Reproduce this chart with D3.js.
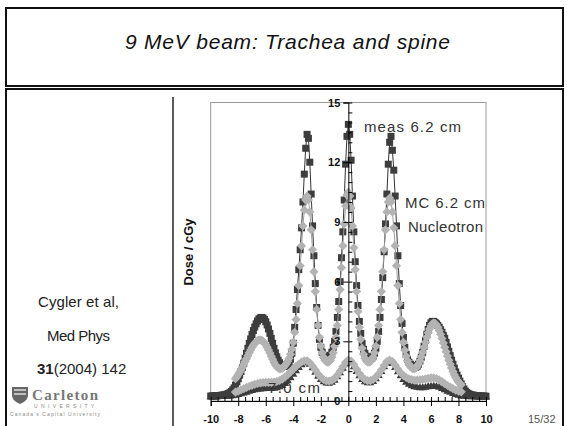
<!DOCTYPE html>
<html><head><meta charset="utf-8">
<script src="https://cdn.jsdelivr.net/npm/d3@7"></script>
<style>body{margin:0;background:#fff}svg{display:block}</style>
</head><body>
<svg id="c" width="567" height="426"></svg>
<script>
// ---- data (dose in cGy vs lateral position in cm) ----
const meas62Start = -10.0, meas62Step = 0.1;
const meas62 = [
0.25,0.25,0.25,0.26,0.26,0.27,0.27,0.28,0.29,0.30,
0.31,0.33,0.35,0.38,0.42,0.48,0.56,0.66,0.80,0.96,
1.12,1.30,1.48,1.68,1.90,2.15,2.40,2.65,2.90,3.12,
3.34,3.54,3.72,3.88,4.02,4.12,4.18,4.20,4.17,4.10,
3.98,3.82,3.62,3.40,3.15,2.90,2.65,2.42,2.22,2.05,
1.92,1.82,1.76,1.74,1.75,1.80,1.87,1.95,2.10,2.40,
2.90,3.70,4.60,5.60,6.60,7.60,8.70,10.0,11.4,12.7,
13.4,13.2,12.0,10.4,8.8,7.3,5.9,4.7,3.8,3.1,
2.70,2.45,2.30,2.20,2.15,2.15,2.20,2.30,2.45,2.70,
3.0,3.5,4.2,5.0,6.0,7.2,8.5,10.1,11.9,13.3,
13.9,13.4,12.1,10.3,8.5,7.0,5.8,4.8,4.0,3.4,
2.9,2.6,2.4,2.25,2.15,2.1,2.1,2.15,2.25,2.4,
2.65,3.0,3.5,4.2,5.1,6.2,7.5,8.9,10.4,11.9,
13.0,13.3,12.6,11.6,10.3,8.8,7.3,5.9,4.8,3.9,
3.2,2.7,2.35,2.1,1.95,1.85,1.78,1.72,1.7,1.7,
1.75,1.85,2.0,2.2,2.45,2.75,3.05,3.35,3.6,3.8,
3.93,4.0,4.0,3.95,3.88,3.8,3.7,3.58,3.45,3.3,
3.15,2.95,2.72,2.5,2.28,2.05,1.85,1.65,1.46,1.3,
1.15,1.0,0.86,0.72,0.6,0.5,0.43,0.38,0.34,0.31,
0.3,0.29,0.28,0.27,0.26,0.26,0.25,0.25,0.24,0.24,
0.24];

const mc62Start = -8.2, mc62Step = 0.1;
const mc62 = [
1.12,1.22,1.33,1.45,1.57,1.70,1.84,1.98,2.12,2.27,
2.42,2.56,2.69,2.80,2.90,2.98,3.03,3.06,3.07,3.05,
3.00,2.92,2.82,2.70,2.56,2.41,2.25,2.10,1.95,1.82,
1.72,1.65,1.62,1.62,1.65,1.70,1.78,1.88,2.00,2.15,
2.35,2.60,2.95,3.45,4.10,4.90,5.80,6.80,7.80,8.80,
9.6,10.1,10.3,10.1,9.5,8.6,7.6,6.5,5.5,4.6,
3.8,3.2,2.75,2.42,2.2,2.05,1.98,1.95,1.98,2.05,
2.2,2.42,2.75,3.2,3.8,4.6,5.6,6.7,7.8,8.9,
9.8,10.35,10.5,10.3,9.7,8.8,7.7,6.6,5.5,4.5,
3.7,3.1,2.65,2.35,2.15,2.02,1.96,1.95,1.98,2.05,
2.2,2.42,2.75,3.2,3.8,4.6,5.5,6.5,7.6,8.6,
9.5,10.0,10.2,10.0,9.5,8.7,7.8,6.8,5.8,4.9,
4.1,3.45,2.95,2.55,2.25,2.02,1.85,1.74,1.66,1.62,
1.62,1.66,1.74,1.86,2.02,2.22,2.45,2.7,2.95,3.2,
3.43,3.62,3.78,3.88,3.92,3.9,3.82,3.7,3.54,3.35,
3.14,2.92,2.7,2.48,2.26,2.05,1.85,1.66,1.48,1.32,
1.18,1.06,0.96,0.88,0.82];

const meas70Start = -10.0, meas70Step = 0.2;
const meas70 = [
0.25,0.25,0.25,0.26,0.26,0.27,0.28,0.29,0.30,0.32,
0.36,0.40,0.44,0.48,0.52,0.56,0.60,0.62,0.64,0.65,
0.66,0.66,0.66,0.67,0.70,0.75,0.82,0.92,1.05,1.20,
1.38,1.55,1.72,1.86,1.95,1.97,1.88,1.70,1.48,1.28,
1.12,1.0,0.94,0.93,0.98,1.08,1.25,1.45,1.68,1.90,
2.02,1.95,1.75,1.52,1.30,1.12,1.0,0.95,0.95,1.02,
1.15,1.32,1.52,1.75,1.95,2.02,1.92,1.72,1.5,1.3,
1.12,0.98,0.88,0.8,0.75,0.72,0.7,0.7,0.72,0.75,
0.77,0.78,0.76,0.72,0.66,0.6,0.53,0.47,0.41,0.36,
0.32,0.29,0.27,0.26,0.25,0.25,0.25,0.24,0.24,0.24,
0.24];

const mc70Start = -8.2, mc70Step = 0.2;
const mc70 = [
0.45,0.50,0.56,0.62,0.68,0.74,0.79,0.84,0.88,0.91,
0.93,0.94,0.94,0.94,0.95,0.98,1.03,1.10,1.20,1.32,
1.46,1.60,1.74,1.86,1.96,2.02,2.02,1.92,1.76,1.56,
1.36,1.20,1.08,1.01,1.0,1.04,1.14,1.30,1.50,1.72,
1.94,2.06,2.0,1.82,1.6,1.38,1.2,1.08,1.02,1.02,
1.08,1.2,1.36,1.56,1.78,1.98,2.06,1.98,1.8,1.6,
1.42,1.28,1.18,1.11,1.07,1.05,1.05,1.06,1.08,1.11,
1.14,1.16,1.16,1.13,1.06,0.97,0.87,0.78,0.70,0.62,
0.55,0.50,0.46];

const xTicks = [-10,-8,-6,-4,-2,0,2,4,6,8,10];
const yTicks = [0,3,6,9,12,15];
const xMinor = d3.range(-20,21).map(i=>i/2);
const yMinor = d3.range(0,31).map(i=>i/2);

const titleText = "9 MeV beam: Trachea and spine";
const yLabel = "Dose / cGy";
const refLines = ["Cygler et al,", "Med Phys"];
const pageNo = "15/32";

// ---- drawing ----
const svg = d3.select("#c");
const FONT = "'Liberation Sans', Arial, sans-serif";

// slide frames
svg.append("rect").attr("x",6).attr("y",8).attr("width",557).attr("height",78)
  .attr("fill","none").attr("stroke","#111").attr("stroke-width",2);
svg.append("rect").attr("x",6).attr("y",89).attr("width",557).attr("height",345)
  .attr("fill","none").attr("stroke","#111").attr("stroke-width",2);
svg.append("text").attr("x",125).attr("y",49)
  .attr("font-family",FONT).attr("font-style","italic").attr("font-size",21)
  .attr("textLength",325).attr("lengthAdjust","spacing").attr("fill","#111")
  .text(titleText);

// divider
svg.append("line").attr("x1",173).attr("x2",173).attr("y1",97).attr("y2",426)
  .attr("stroke","#222").attr("stroke-width",1.5);

// reference text
const refG = svg.append("g").attr("font-family",FONT).attr("font-size",15).attr("fill","#222");
refG.append("text").attr("x",38).attr("y",307).attr("textLength",81).attr("lengthAdjust","spacing").text(refLines[0]);
refG.append("text").attr("x",47).attr("y",341).attr("textLength",63).attr("lengthAdjust","spacing").text(refLines[1]);
const t3 = refG.append("text").attr("x",37).attr("y",374);
t3.append("tspan").attr("font-weight","bold").text("31");
t3.append("tspan").text("(2004) 142");

// Carleton logo
const logo = svg.append("g").attr("fill","#777");
logo.append("path").attr("d","M12,387 h16 v8 q0,6 -8,9 q-8,-3 -8,-9 z").attr("fill","#666");
logo.append("path").attr("d","M14,390 h12 M14,394 h12").attr("stroke","#ddd").attr("stroke-width",1.5);
logo.append("text").attr("x",32).attr("y",400).attr("font-family","'Liberation Serif', serif")
  .attr("font-size",15).attr("font-weight","bold").attr("fill","#777").attr("textLength",66).text("Carleton");
logo.append("text").attr("x",34).attr("y",408).attr("font-family",FONT)
  .attr("font-size",5).attr("fill","#888").attr("textLength",60).attr("lengthAdjust","spacing").text("U N I V E R S I T Y");
logo.append("text").attr("x",10).attr("y",416).attr("font-family",FONT)
  .attr("font-size",5).attr("fill","#888").attr("textLength",90).text("Canada's Capital University");

// page number
svg.append("text").attr("x",528).attr("y",423).attr("font-family",FONT)
  .attr("font-size",11).attr("fill","#555").text(pageNo);

// chart
const x = d3.scaleLinear().domain([-10,10]).range([210.7,486]);
const y = d3.scaleLinear().domain([0,15]).range([401,102.5]);

// plot area border
svg.append("rect").attr("x",x(-10)).attr("y",y(15)).attr("width",x(10)-x(-10)).attr("height",y(0)-y(15))
  .attr("fill","none").attr("stroke","#9a9a9a").attr("stroke-width",1);

const toPts = (arr, start, step) => arr.map((v,i)=>({x:+(start+i*step).toFixed(2), y:v}));
const pMeas62 = toPts(meas62, meas62Start, meas62Step);
const pMc62 = toPts(mc62, mc62Start, mc62Step);
const pMeas70 = toPts(meas70, meas70Start, meas70Step);
const pMc70 = toPts(mc70, mc70Start, mc70Step);

const line = d3.line().x(d=>x(d.x)).y(d=>y(d.y));
const SQ = "M-3.5,-3.5h7v7h-7z";
const DI = "M0,-4.6L4.6,0L0,4.6L-4.6,0Z";
const TR = "M0,-4L4,3.2L-4,3.2Z";
const DARK = "#3d3d3d", LIGHT = "#b3b3b3";

function markers(pts, path, fill, cls){
  svg.append("g").selectAll("path."+cls).data(pts).join("path").attr("class",cls)
    .attr("d",path).attr("fill",fill)
    .attr("transform",d=>`translate(${x(d.x)},${y(d.y)})`);
}

// meas 7.0 (dark triangles)
markers(pMeas70, TR, DARK, "m70");
// meas 6.2 (dark squares with line)
svg.append("path").datum(pMeas62).attr("d",line).attr("fill","none").attr("stroke","#333").attr("stroke-width",1);
markers(pMeas62, SQ, DARK, "m62");
// MC 6.2 (light diamonds with line)
svg.append("path").datum(pMc62).attr("d",line).attr("fill","none").attr("stroke","#9c9c9c").attr("stroke-width",1);
markers(pMc62, DI, LIGHT, "c62");
// MC 7.0 (light diamonds)
markers(pMc70, DI, LIGHT, "c70");

// axes
const xAxisG = svg.append("g").attr("transform",`translate(0,${y(0)})`);
xAxisG.call(d3.axisBottom(x).tickValues(xTicks).tickSize(5).tickPadding(9).tickFormat(d3.format("d")));
const xMinorG = svg.append("g").attr("transform",`translate(0,${y(0)})`);
xMinorG.call(d3.axisTop(x).tickValues(xMinor).tickSize(4).tickFormat(""));
xMinorG.select(".domain").remove();

const yAxisG = svg.append("g").attr("transform",`translate(${x(0)},0)`);
yAxisG.call(d3.axisLeft(y).tickValues(yTicks).tickSize(5).tickPadding(3).tickFormat(d3.format("d")));
const yMinorG = svg.append("g").attr("transform",`translate(${x(0)},0)`);
yMinorG.call(d3.axisRight(y).tickValues(yMinor).tickSize(4).tickFormat(""));
yMinorG.select(".domain").remove();

[xAxisG, yAxisG].forEach(g=>{
  g.select(".domain").attr("stroke","#000").attr("stroke-width",1);
  g.selectAll("text").attr("font-family",FONT).attr("font-weight","bold").attr("font-size",11).attr("fill","#111");
});
xAxisG.selectAll("text").text(d=>d<0 ? "-"+Math.abs(d) : d);

// axis title
svg.append("text").attr("transform","translate(193,252) rotate(-90)")
  .attr("text-anchor","middle").attr("font-family",FONT).attr("font-weight","bold")
  .attr("font-size",13).attr("fill","#111").text(yLabel);

// annotations
const ann = svg.append("g").attr("font-family",FONT).attr("font-size",15).attr("fill","#333");
ann.append("text").attr("x",364).attr("y",132).attr("textLength",97).attr("lengthAdjust","spacing").text("meas 6.2 cm");
ann.append("text").attr("x",405).attr("y",208).attr("textLength",80).attr("lengthAdjust","spacing").text("MC 6.2 cm");
ann.append("text").attr("x",408).attr("y",232).attr("textLength",75).attr("lengthAdjust","spacing").text("Nucleotron");
ann.append("text").attr("x",268).attr("y",393).attr("textLength",52).attr("lengthAdjust","spacing").text("7.0 cm");
</script>
</body></html>
